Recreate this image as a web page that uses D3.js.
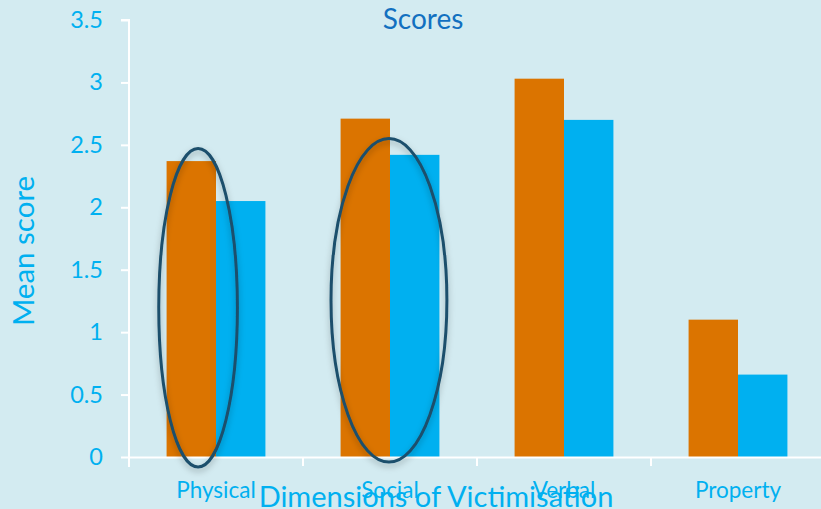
<!DOCTYPE html>
<html>
<head>
<meta charset="utf-8">
<script src="https://cdn.jsdelivr.net/npm/d3@7"></script>
<style>
  html, body { margin: 0; padding: 0; background: #d3ebf1; }
  svg { display: block; font-family: Lato, "Open Sans", sans-serif; }
</style>
</head>
<body>
<svg id="chart" width="821" height="509"></svg>
<script>
// Mean scores per dimension of victimisation, two groups
const categories = ["Physical", "Social", "Verbal", "Property"];
const seriesA = [2.37, 2.71, 3.03, 1.10];   // orange bars
const seriesB = [2.05, 2.42, 2.70, 0.66];   // blue bars
const yTicks = [0, 0.5, 1, 1.5, 2, 2.5, 3, 3.5];
const yTickLabels = ["0", "0.5", "1", "1.5", "2", "2.5", "3", "3.5"];
const highlighted = ["Physical", "Social"];  // categories circled on the chart
// ellipse centre / half-width as fractions of the category band, vertical extent in data units
const highlightSpan = [
  { cat: "Physical", centre: 0.397, half: 0.226, yTop: 2.47, yBottom: -0.08 },
  { cat: "Social",   centre: 0.494, half: 0.333, yTop: 2.55, yBottom: -0.04 }
];

const svg = d3.select("#chart");
const plot = { left: 129, right: 825, top: 20, bottom: 457 };

const x = d3.scaleBand().domain(categories).range([plot.left, plot.right]).padding(0);
const barPad = x.bandwidth() * 0.216;
const inner = d3.scaleBand().domain(["a", "b"]).range([barPad, x.bandwidth() - barPad]).padding(0);
const y = d3.scaleLinear().domain([0, 3.5]).range([plot.bottom, plot.top]);

const orange = "#db7400", blue = "#00b0f0", textBlue = "#00b0f0";
const font = "Lato, 'Open Sans', sans-serif";

// bars
const groups = svg.append("g").selectAll("g").data(categories).join("g")
  .attr("transform", d => `translate(${x(d)},0)`);
groups.append("rect")
  .attr("x", inner("a")).attr("width", inner.bandwidth())
  .attr("y", (d, i) => y(seriesA[i])).attr("height", (d, i) => y(0) - y(seriesA[i]))
  .attr("fill", orange);
groups.append("rect")
  .attr("x", inner("b")).attr("width", inner.bandwidth())
  .attr("y", (d, i) => y(seriesB[i])).attr("height", (d, i) => y(0) - y(seriesB[i]))
  .attr("fill", blue);

// y axis
const yAxis = svg.append("g").attr("transform", `translate(${plot.left},0)`)
  .call(d3.axisLeft(y).tickValues(yTicks).tickFormat((d, i) => yTickLabels[i]).tickSize(8).tickPadding(18))
  .attr("font-family", font);
yAxis.select(".domain").attr("stroke", "#fff").attr("stroke-width", 2)
  .attr("d", `M-8,${plot.top}H0V${plot.bottom + 10}`);
yAxis.selectAll(".tick line").attr("stroke", "#fff").attr("stroke-width", 2);
yAxis.selectAll(".tick text").attr("fill", textBlue).attr("font-size", 23.5);

// x axis
const xAxis = svg.append("g").attr("transform", `translate(0,${plot.bottom})`)
  .call(d3.axisBottom(x).tickSize(0))
  .attr("font-family", font);
xAxis.select(".domain").attr("stroke", "#fff").attr("stroke-width", 2);
xAxis.selectAll(".tick text").attr("fill", textBlue).attr("font-size", 22.5)
  .attr("y", 41).attr("dy", 0);
// boundary ticks between categories
svg.append("g").selectAll("line").data(categories.slice(1)).join("line")
  .attr("x1", d => x(d)).attr("x2", d => x(d))
  .attr("y1", plot.bottom).attr("y2", plot.bottom + 9)
  .attr("stroke", "#fff").attr("stroke-width", 2);

// highlight ellipses
const defs = svg.append("defs");
const f = defs.append("filter").attr("id", "shadow").attr("x", "-30%").attr("y", "-30%").attr("width", "160%").attr("height", "160%");
f.append("feDropShadow").attr("dx", 0).attr("dy", 3).attr("stdDeviation", 3)
  .attr("flood-color", "#000").attr("flood-opacity", 0.28);
svg.append("g").selectAll("ellipse").data(highlightSpan.filter(h => highlighted.includes(h.cat))).join("ellipse")
  .attr("cx", d => x(d.cat) + x.bandwidth() * d.centre)
  .attr("cy", d => (y(d.yTop) + y(d.yBottom)) / 2)
  .attr("rx", d => x.bandwidth() * d.half)
  .attr("ry", d => (y(d.yBottom) - y(d.yTop)) / 2)
  .attr("fill", "none").attr("stroke", "#1c4f6c").attr("stroke-width", 3)
  .attr("filter", "url(#shadow)");

// titles
svg.append("text").attr("x", 423).attr("y", 29).attr("text-anchor", "middle")
  .attr("fill", "#1270c0").attr("font-size", 28).text("Scores");
svg.append("text").attr("transform", `translate(34,251) rotate(-90)`).attr("text-anchor", "middle")
  .attr("fill", textBlue).attr("font-size", 29.5).text("Mean score");
svg.append("text").attr("x", 436).attr("y", 507).attr("text-anchor", "middle")
  .attr("fill", textBlue).attr("font-size", 29).text("Dimensions of Victimisation");
</script>
</body>
</html>
